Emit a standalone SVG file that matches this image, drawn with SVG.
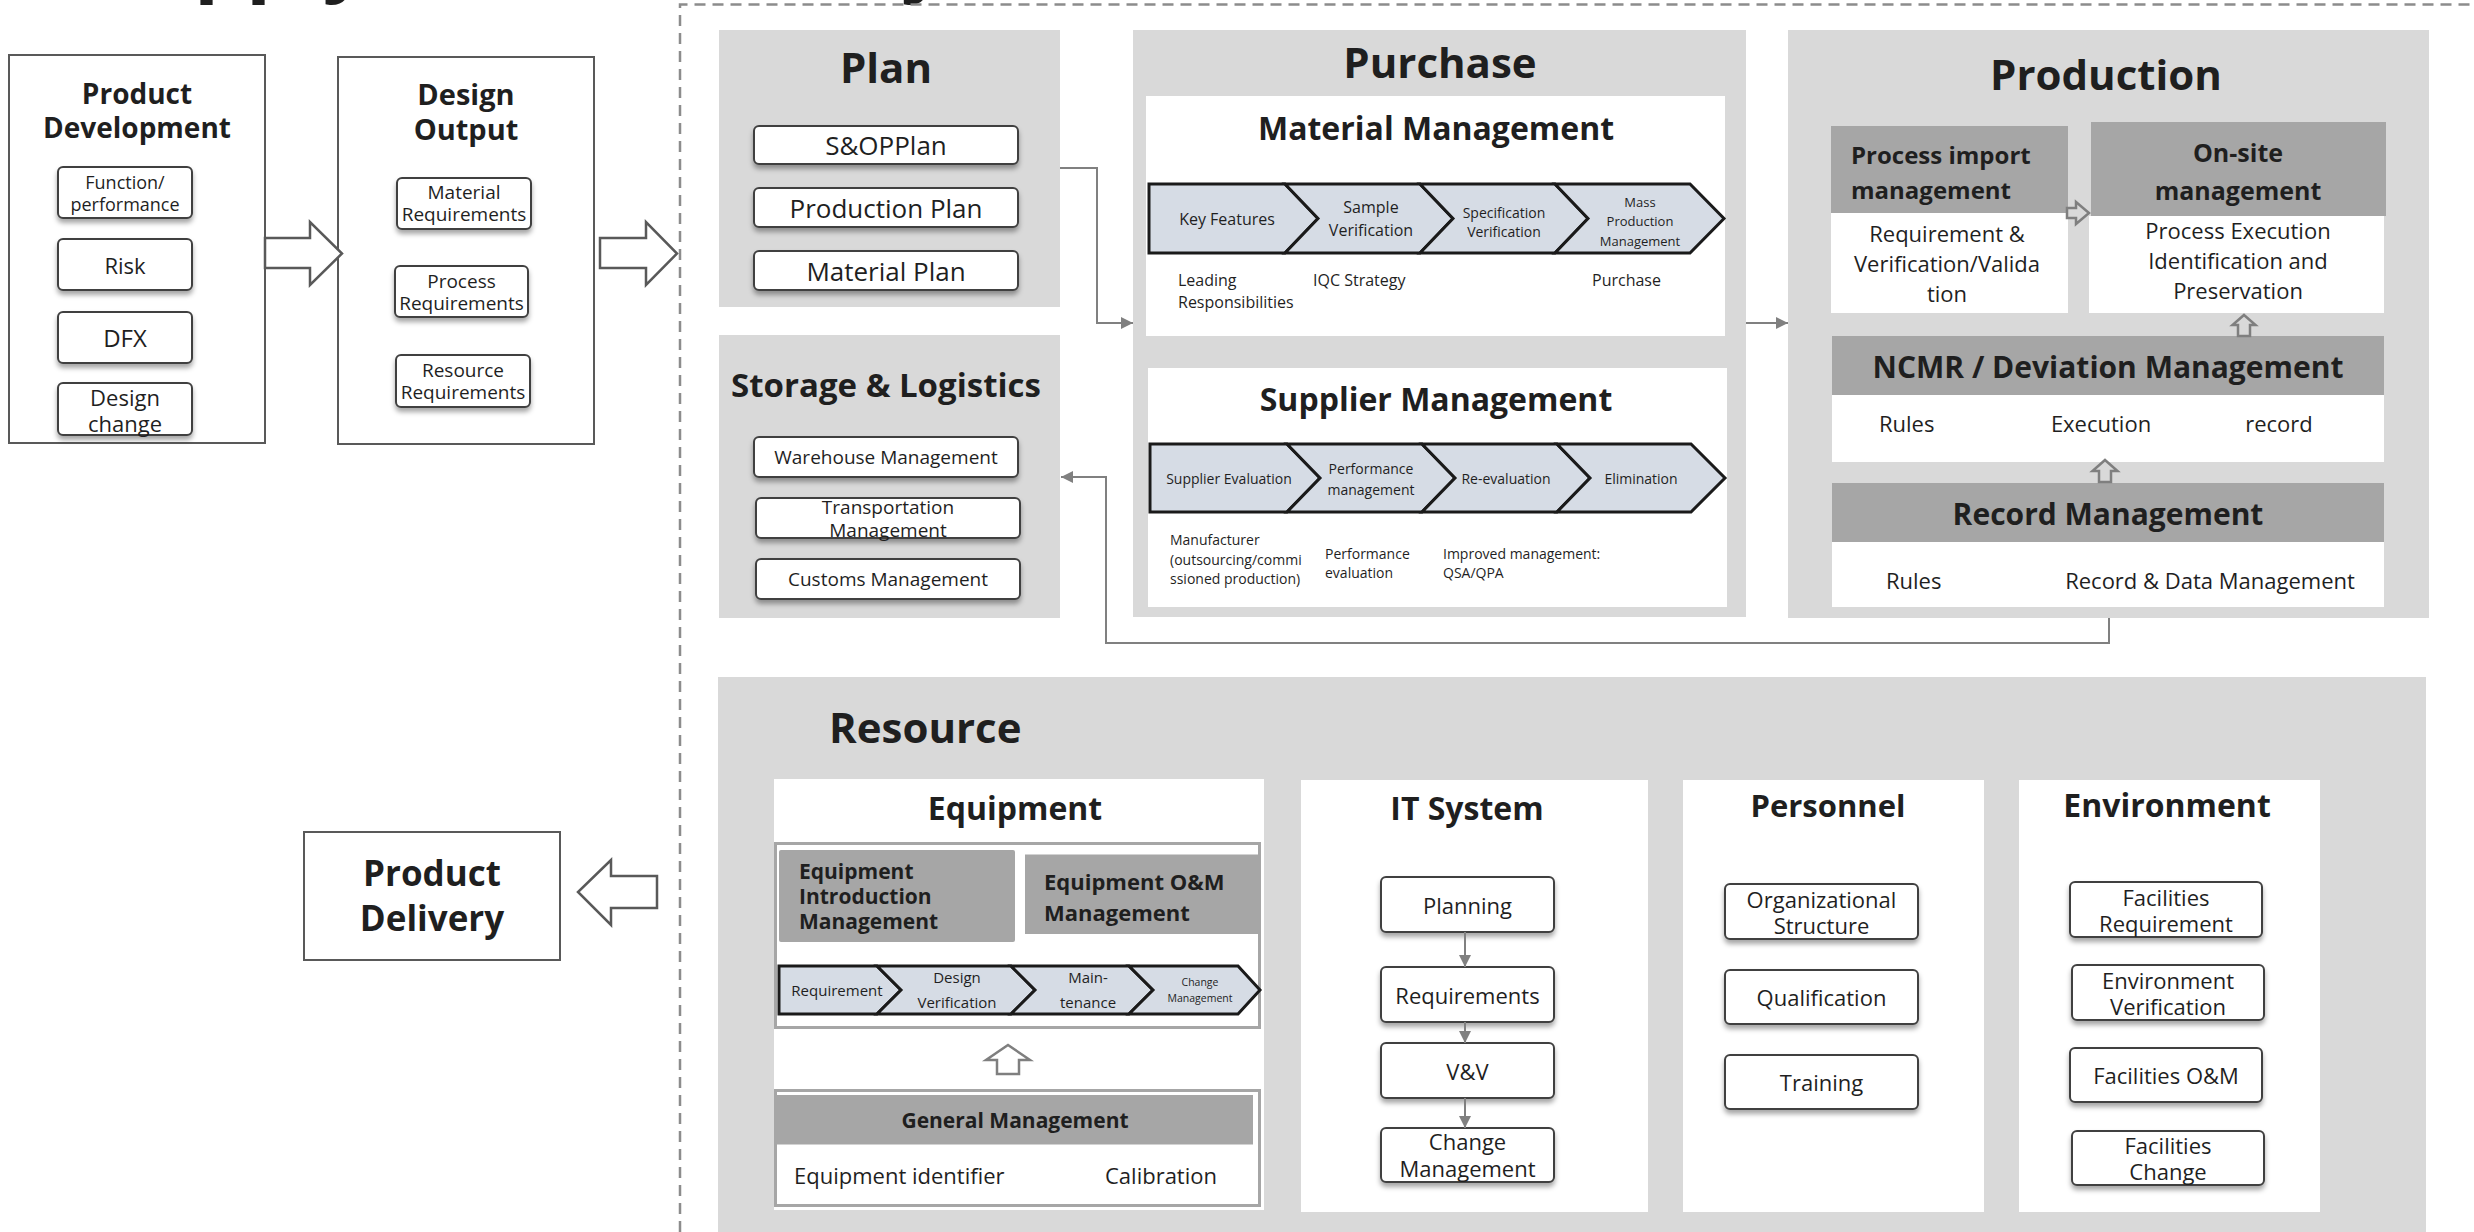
<svg xmlns="http://www.w3.org/2000/svg" width="2474" height="1232" viewBox="0 0 2474 1232">
<defs>
<style>
text { font-family: "Open Sans","Noto Sans","Liberation Sans",sans-serif; fill:#1f1f1f; }
.b { font-weight:700; }
.m { text-anchor:middle; }
.c { text-anchor:middle; dominant-baseline:central; }
.l { dominant-baseline:central; }
.panel { fill:#d9d9d9; }
.hdr { fill:#a6a6a6; }
.wht { fill:#ffffff; }
.node { fill:#ffffff; stroke:#404040; stroke-width:2; filter:url(#sh); }
.chev { fill:#d6dce5; stroke:#1a1a1a; stroke-width:3; stroke-linejoin:miter; }
.conn { fill:none; stroke:#808080; stroke-width:2; }
.hol { fill:#ffffff; stroke:#595959; stroke-width:2.5; }
.hol2 { fill:none; stroke:#7f7f7f; stroke-width:2.5; }
.hol3 { fill:#ffffff; stroke:#7f7f7f; stroke-width:2.5; }
.box { fill:#ffffff; stroke:#595959; stroke-width:2; }
.gbox { fill:none; stroke:#a6a6a6; stroke-width:3; }
.frame { fill:none; stroke:#8c8c8c; stroke-width:2.5; stroke-dasharray:11 7; }
</style>
<filter id="sh" x="-10%" y="-20%" width="120%" height="170%">
<feDropShadow dx="0" dy="4" stdDeviation="2.5" flood-color="#000000" flood-opacity="0.35"/>
</filter>
<marker id="ah" viewBox="0 0 10 10" refX="10" refY="5" markerWidth="14" markerHeight="12" markerUnits="userSpaceOnUse" orient="auto">
<path d="M0,0 L10,5 L0,10 Z" fill="#808080"/>
</marker>
</defs>

<rect x="0" y="0" width="2474" height="1232" fill="#ffffff"/>

<!-- cut-off title -->
<text x="95" y="-15" class="b" font-size="82">Supply Chain Quality</text>

<!-- dashed frame -->
<path class="frame" d="M680,1232 V4.5 H2474"/>

<!-- Product Development -->
<g id="product-development">
<rect class="box" x="9" y="55" width="256" height="388"/>
<text class="b m" x="137" y="104" font-size="28">Product</text>
<text class="b m" x="137" y="138" font-size="28">Development</text>
<rect class="node" x="58" y="167" width="134" height="51" rx="5"/>
<text class="c" x="125" y="182" font-size="18">Function/</text>
<text class="c" x="125" y="204" font-size="18">performance</text>
<rect class="node" x="58" y="239" width="134" height="51" rx="5"/>
<text class="c" x="125" y="265" font-size="22">Risk</text>
<rect class="node" x="58" y="312" width="134" height="51" rx="5"/>
<text class="c" x="125" y="337" font-size="24">DFX</text>
<rect class="node" x="58" y="383" width="134" height="52" rx="5"/>
<text class="c" x="125" y="397" font-size="22">Design</text>
<text class="c" x="125" y="423" font-size="22">change</text>
</g>

<!-- Design Output -->
<g id="design-output">
<rect class="box" x="338" y="57" width="256" height="387"/>
<text class="b m" x="466" y="105" font-size="29">Design</text>
<text class="b m" x="466" y="140" font-size="29">Output</text>
<rect class="node" x="397" y="178" width="134" height="51" rx="5"/>
<text class="c" x="464" y="192" font-size="19">Material</text>
<text class="c" x="464" y="214" font-size="19">Requirements</text>
<rect class="node" x="395" y="266" width="133" height="51" rx="5"/>
<text class="c" x="461.5" y="281" font-size="19">Process</text>
<text class="c" x="461.5" y="303" font-size="19">Requirements</text>
<rect class="node" x="396" y="355" width="134" height="52" rx="5"/>
<text class="c" x="463" y="370" font-size="19">Resource</text>
<text class="c" x="463" y="392" font-size="19">Requirements</text>
</g>

<!-- Product Delivery -->
<g id="product-delivery">
<rect class="box" x="304" y="832" width="256" height="128"/>
<text class="b m" x="432" y="886" font-size="35">Product</text>
<text class="b m" x="432" y="931" font-size="35">Delivery</text>
</g>

<!-- Plan -->
<g id="plan">
<rect class="panel" x="719" y="30" width="341" height="277"/>
<text class="b m" x="886" y="83" font-size="42">Plan</text>
<rect class="node" x="754" y="126" width="264" height="38" rx="5"/>
<text class="c" x="886" y="145" font-size="26">S&amp;OPPlan</text>
<rect class="node" x="754" y="188" width="264" height="39" rx="5"/>
<text class="c" x="886" y="207.5" font-size="26">Production Plan</text>
<rect class="node" x="754" y="251" width="264" height="39" rx="5"/>
<text class="c" x="886" y="270.5" font-size="26">Material Plan</text>
</g>

<!-- Storage & Logistics -->
<g id="storage-logistics">
<rect class="panel" x="719" y="335" width="341" height="283"/>
<text class="b m" x="886" y="397" font-size="33">Storage &amp; Logistics</text>
<rect class="node" x="754" y="437" width="264" height="40" rx="5"/>
<text class="c" x="886" y="457" font-size="19">Warehouse Management</text>
<rect class="node" x="756" y="498" width="264" height="40" rx="5"/>
<text class="c" x="888" y="507" font-size="19">Transportation</text>
<text class="c" x="888" y="530" font-size="19">Management</text>
<rect class="node" x="756" y="559" width="264" height="40" rx="5"/>
<text class="c" x="888" y="579" font-size="19">Customs Management</text>
</g>

<!-- Purchase -->
<g id="purchase">
<rect class="panel" x="1133" y="30" width="613" height="587"/>
<text class="b m" x="1440" y="78" font-size="42">Purchase</text>
</g>

<g id="material-management">
<rect class="wht" x="1146" y="96" width="579" height="240"/>
<text class="b m" x="1436" y="140" font-size="32">Material Management</text>
<polygon class="chev" points="1149,184 1285,184 1318,218.5 1285,253 1149,253"/>
<polygon class="chev" points="1285,184 1420,184 1453,218.5 1420,253 1285,253 1318,218.5"/>
<polygon class="chev" points="1420,184 1555,184 1588,218.5 1555,253 1420,253 1453,218.5"/>
<polygon class="chev" points="1555,184 1690,184 1724,218.5 1690,253 1555,253 1588,218.5"/>
<text class="c" x="1227" y="218.5" font-size="16">Key Features</text>
<text class="c" x="1371" y="207" font-size="16">Sample</text>
<text class="c" x="1371" y="230" font-size="16">Verification</text>
<text class="c" x="1504" y="212" font-size="14">Specification</text>
<text class="c" x="1504" y="231" font-size="14">Verification</text>
<text class="c" x="1640" y="202" font-size="13">Mass</text>
<text class="c" x="1640" y="221" font-size="13">Production</text>
<text class="c" x="1640" y="241" font-size="13">Management</text>
<text class="l" x="1178" y="280" font-size="16">Leading</text>
<text class="l" x="1178" y="302" font-size="16">Responsibilities</text>
<text class="l" x="1313" y="280" font-size="16">IQC Strategy</text>
<text class="l" x="1592" y="280" font-size="16">Purchase</text>
</g>

<g id="supplier-management">
<rect class="wht" x="1148" y="368" width="579" height="239"/>
<text class="b m" x="1436" y="411" font-size="32">Supplier Management</text>
<polygon class="chev" points="1150,444 1287,444 1320,478 1287,512 1150,512"/>
<polygon class="chev" points="1287,444 1422,444 1455,478 1422,512 1287,512 1320,478"/>
<polygon class="chev" points="1422,444 1557,444 1590,478 1557,512 1422,512 1455,478"/>
<polygon class="chev" points="1557,444 1691,444 1725,478 1691,512 1557,512 1590,478"/>
<text class="c" x="1229" y="478" font-size="14">Supplier Evaluation</text>
<text class="c" x="1371" y="468" font-size="14">Performance</text>
<text class="c" x="1371" y="489" font-size="14">management</text>
<text class="c" x="1506" y="478" font-size="14">Re-evaluation</text>
<text class="c" x="1641" y="478" font-size="14">Elimination</text>
<text class="l" x="1170" y="539" font-size="14">Manufacturer</text>
<text class="l" x="1170" y="559" font-size="14">(outsourcing/commi</text>
<text class="l" x="1170" y="578" font-size="14">ssioned production)</text>
<text class="l" x="1325" y="553" font-size="14">Performance</text>
<text class="l" x="1325" y="572" font-size="14">evaluation</text>
<text class="l" x="1443" y="553" font-size="14">Improved management:</text>
<text class="l" x="1443" y="572" font-size="14">QSA/QPA</text>
</g>

<!-- Production -->
<g id="production">
<rect class="panel" x="1788" y="30" width="641" height="588"/>
<text class="b m" x="2106" y="90" font-size="42">Production</text>
</g>

<g id="process-import-management">
<rect class="hdr" x="1831" y="126" width="237" height="87"/>
<rect class="wht" x="1831" y="213" width="237" height="100"/>
<text class="b l" x="1851" y="154" font-size="24">Process import</text>
<text class="b l" x="1851" y="189" font-size="24">management</text>
<text class="c" x="1947" y="233" font-size="22">Requirement &amp;</text>
<text class="c" x="1947" y="263" font-size="22">Verification/Valida</text>
<text class="c" x="1947" y="293" font-size="22">tion</text>
</g>

<g id="on-site-management">
<rect class="hdr" x="2091" y="122" width="295" height="94"/>
<rect class="wht" x="2089" y="216" width="295" height="97"/>
<text class="b c" x="2238" y="152" font-size="25">On-site</text>
<text class="b c" x="2238" y="190" font-size="25">management</text>
<text class="c" x="2238" y="230" font-size="22">Process Execution</text>
<text class="c" x="2238" y="260" font-size="22">Identification and</text>
<text class="c" x="2238" y="290" font-size="22">Preservation</text>
</g>

<g id="ncmr-deviation-management">
<rect class="hdr" x="1832" y="336" width="552" height="59"/>
<rect class="wht" x="1832" y="395" width="552" height="67"/>
<text class="b c" x="2108" y="366" font-size="30">NCMR / Deviation Management</text>
<text class="l" x="1879" y="423" font-size="22">Rules</text>
<text class="c" x="2101" y="423" font-size="22">Execution</text>
<text class="c" x="2279" y="423" font-size="22">record</text>
</g>

<g id="record-management">
<rect class="hdr" x="1832" y="483" width="552" height="59"/>
<rect class="wht" x="1832" y="542" width="552" height="65"/>
<text class="b c" x="2108" y="513" font-size="30">Record Management</text>
<text class="l" x="1886" y="580" font-size="22">Rules</text>
<text class="c" x="2210" y="580" font-size="22">Record &amp; Data Management</text>
</g>

<!-- Resource -->
<g id="resource">
<rect class="panel" x="718" y="677" width="1708" height="560"/>
<text class="b" x="829" y="743" font-size="42">Resource</text>
</g>

<g id="equipment">
<rect class="wht" x="774" y="779" width="490" height="431"/>
<text class="b m" x="1015" y="820" font-size="32">Equipment</text>
<rect class="gbox" x="775.5" y="843.5" width="484" height="184"/>
<rect class="hdr" x="779" y="850" width="236" height="92" rx="2"/>
<rect class="hdr" x="1025" y="854.5" width="233" height="79.5"/>
<text class="b l" x="799" y="871" font-size="21">Equipment</text>
<text class="b l" x="799" y="896" font-size="21">Introduction</text>
<text class="b l" x="799" y="921" font-size="21">Management</text>
<text class="b l" x="1044" y="881" font-size="22">Equipment O&amp;M</text>
<text class="b l" x="1044" y="912" font-size="22">Management</text>
<polygon class="chev" stroke-width="2.5" points="779,966 877,966 901,990 877,1014 779,1014"/>
<polygon class="chev" stroke-width="2.5" points="877,966 1011,966 1035,990 1011,1014 877,1014 901,990"/>
<polygon class="chev" stroke-width="2.5" points="1011,966 1129,966 1153,990 1129,1014 1011,1014 1035,990"/>
<polygon class="chev" stroke-width="2.5" points="1129,966 1238,966 1260,990 1238,1014 1129,1014 1153,990"/>
<text class="c" x="837" y="990" font-size="15">Requirement</text>
<text class="c" x="957" y="977" font-size="15">Design</text>
<text class="c" x="957" y="1002" font-size="15">Verification</text>
<text class="c" x="1088" y="977" font-size="15">Main-</text>
<text class="c" x="1088" y="1002" font-size="15">tenance</text>
<text class="c" x="1200" y="982" font-size="10.5">Change</text>
<text class="c" x="1200" y="998" font-size="10.5">Management</text>
<path class="hol3" d="M1008,1045 L1030,1060 L1019,1060 L1019,1074 L997,1074 L997,1060 L986,1060 Z"/>
<rect class="gbox" x="775.5" y="1090.5" width="484" height="115"/>
<rect class="hdr" x="777" y="1095" width="476" height="49.5"/>
<text class="b c" x="1015" y="1120" font-size="21">General Management</text>
<text class="l" x="794" y="1175" font-size="22">Equipment identifier</text>
<text class="l" x="1105" y="1175" font-size="22">Calibration</text>
</g>

<g id="it-system">
<rect class="wht" x="1301" y="780" width="347" height="432"/>
<text class="b m" x="1467" y="820" font-size="32">IT System</text>
<rect class="node" x="1381" y="877" width="173" height="55" rx="5"/>
<text class="c" x="1467.5" y="904.5" font-size="22">Planning</text>
<rect class="node" x="1381" y="967" width="173" height="55" rx="5"/>
<text class="c" x="1467.5" y="994.5" font-size="22">Requirements</text>
<rect class="node" x="1381" y="1043" width="173" height="55" rx="5"/>
<text class="c" x="1467.5" y="1070.5" font-size="22">V&amp;V</text>
<rect class="node" x="1381" y="1128" width="173" height="54" rx="5"/>
<text class="c" x="1467.5" y="1141" font-size="22">Change</text>
<text class="c" x="1467.5" y="1168" font-size="22">Management</text>
</g>

<g id="personnel">
<rect class="wht" x="1683" y="780" width="301" height="432"/>
<text class="b m" x="1828" y="817" font-size="31">Personnel</text>
<rect class="node" x="1725" y="884" width="193" height="55" rx="5"/>
<text class="c" x="1821.5" y="899" font-size="22">Organizational</text>
<text class="c" x="1821.5" y="925" font-size="22">Structure</text>
<rect class="node" x="1725" y="970" width="193" height="54" rx="5"/>
<text class="c" x="1821.5" y="997" font-size="22">Qualification</text>
<rect class="node" x="1725" y="1055" width="193" height="54" rx="5"/>
<text class="c" x="1821.5" y="1082" font-size="22">Training</text>
</g>

<g id="environment">
<rect class="wht" x="2019" y="780" width="301" height="432"/>
<text class="b m" x="2167" y="817" font-size="32">Environment</text>
<rect class="node" x="2070" y="882" width="192" height="55" rx="5"/>
<text class="c" x="2166" y="897" font-size="22">Facilities</text>
<text class="c" x="2166" y="923" font-size="22">Requirement</text>
<rect class="node" x="2072" y="965" width="192" height="55" rx="5"/>
<text class="c" x="2168" y="980" font-size="22">Environment</text>
<text class="c" x="2168" y="1006" font-size="22">Verification</text>
<rect class="node" x="2070" y="1048" width="192" height="54" rx="5"/>
<text class="c" x="2166" y="1075" font-size="22">Facilities O&amp;M</text>
<rect class="node" x="2072" y="1131" width="192" height="54" rx="5"/>
<text class="c" x="2168" y="1145" font-size="22">Facilities</text>
<text class="c" x="2168" y="1171" font-size="22">Change</text>
</g>

<!-- connectors -->
<g id="connectors">
<path class="hol" d="M265,238 H310 V222 L342,253.5 L310,285 V268 H265 Z"/>
<path class="hol" d="M600,238 H646 V222 L677,253.5 L646,285 V268 H600 Z"/>
<path class="hol" d="M657,876 H611 V860 L578,892 L611,925 V908 H657 Z"/>
<path class="conn" marker-end="url(#ah)" d="M1060,168 H1097 V323 H1133"/>
<path class="conn" marker-end="url(#ah)" d="M1746,323 H1788"/>
<path class="conn" marker-end="url(#ah)" d="M2109,618 V643 H1106 V477 H1061"/>
<path class="hol2" d="M2067,208 H2076 V202 L2089,213 L2076,224 V218 H2067 Z"/>
<path class="hol2" d="M2244,315 L2255.5,325 L2250,325 L2250,336 L2238,336 L2238,325 L2232.5,325 Z"/>
<path class="hol2" d="M2105,460 L2117.5,471 L2111,471 L2111,482 L2099,482 L2099,471 L2092.5,471 Z"/>
<path class="conn" marker-end="url(#ah)" d="M1465,932 V967"/>
<path class="conn" marker-end="url(#ah)" d="M1465,1022 V1043"/>
<path class="conn" marker-end="url(#ah)" d="M1465,1098 V1128"/>
</g>
</svg>
